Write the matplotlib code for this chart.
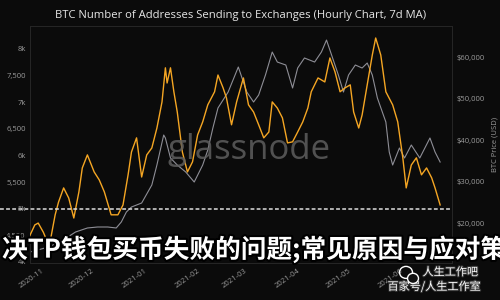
import matplotlib
matplotlib.use('Agg')
import matplotlib.pyplot as plt
import matplotlib.dates as mdates
import matplotlib.patheffects as pe
from matplotlib.patches import Ellipse
from matplotlib.ticker import FuncFormatter, FixedLocator
import pandas as pd

# ---------------- data ----------------
addr_dates = ['2020-10-23', '2020-10-26', '2020-10-28', '2020-10-31', '2020-11-02', '2020-11-04',
              '2020-11-07', '2020-11-09', '2020-11-12', '2020-11-15', '2020-11-18', '2020-11-21',
              '2020-11-23', '2020-11-26', '2020-11-30', '2020-12-03', '2020-12-06', '2020-12-10',
              '2020-12-14', '2020-12-17', '2020-12-20', '2020-12-22', '2020-12-25', '2020-12-28',
              '2020-12-31', '2021-01-03', '2021-01-06', '2021-01-09', '2021-01-11', '2021-01-12',
              '2021-01-14', '2021-01-16', '2021-01-18', '2021-01-21', '2021-01-24', '2021-01-27',
              '2021-01-30', '2021-02-02', '2021-02-05', '2021-02-09', '2021-02-11', '2021-02-14',
              '2021-02-16', '2021-02-19', '2021-02-22', '2021-02-26', '2021-03-01', '2021-03-04',
              '2021-03-07', '2021-03-10', '2021-03-13', '2021-03-15', '2021-03-18', '2021-03-21',
              '2021-03-24', '2021-03-27', '2021-03-30', '2021-04-02', '2021-04-05', '2021-04-07',
              '2021-04-11', '2021-04-15', '2021-04-18', '2021-04-21', '2021-04-24', '2021-04-27',
              '2021-04-30', '2021-05-02', '2021-05-05', '2021-05-07', '2021-05-10', '2021-05-13',
              '2021-05-15', '2021-05-18', '2021-05-21', '2021-05-25', '2021-05-28', '2021-05-31',
              '2021-06-02', '2021-06-05', '2021-06-08', '2021-06-11', '2021-06-14', '2021-06-17',
              '2021-06-19', '2021-06-22']
addr_values = [4490, 4695, 4730, 4560, 4410, 4375,
               4885, 5125, 5390, 5200, 4825, 5315,
               5765, 6010, 5690, 5540, 5315, 4885,
               4885, 5070, 5635, 6065, 6330, 5595,
               6010, 6140, 6515, 7005, 7645, 7360,
               7645, 7195, 6815, 6065, 5690, 5880,
               6385, 6630, 6950, 7195, 7510, 7270,
               7080, 6575, 7005, 7455, 6950, 6815,
               6575, 6330, 6440, 7005, 6890, 6705,
               6235, 6255, 6440, 6630, 6890, 7195,
               7455, 7380, 7830, 7570, 7195, 7270,
               7325, 6815, 6515, 6760, 7325, 7885,
               8205, 7885, 7195, 6950, 6630, 5955,
               5390, 5820, 5955, 5635, 5765, 5580,
               5390, 5070]

price_dates = ['2020-10-23', '2020-11-01', '2020-11-09', '2020-11-19', '2020-11-26', '2020-12-02',
               '2020-12-08', '2020-12-13', '2020-12-16', '2020-12-19', '2020-12-22', '2020-12-28',
               '2021-01-03', '2021-01-06', '2021-01-10', '2021-01-11', '2021-01-14', '2021-01-18',
               '2021-01-23', '2021-01-28', '2021-02-02', '2021-02-05', '2021-02-08', '2021-02-11',
               '2021-02-17', '2021-02-23', '2021-02-28', '2021-03-04', '2021-03-07', '2021-03-11',
               '2021-03-15', '2021-03-18', '2021-03-23', '2021-03-27', '2021-03-30', '2021-04-03',
               '2021-04-09', '2021-04-13', '2021-04-16', '2021-04-19', '2021-04-23', '2021-04-26',
               '2021-04-29', '2021-05-03', '2021-05-07', '2021-05-10', '2021-05-13', '2021-05-16',
               '2021-05-21', '2021-05-23', '2021-05-25', '2021-05-29', '2021-06-01', '2021-06-05',
               '2021-06-10', '2021-06-13', '2021-06-16', '2021-06-19', '2021-06-22']
price_values = [13000, 13980, 15180, 17830, 18800, 19040,
                19040, 18800, 20240, 22650, 23860, 24820,
                29160, 33980, 41210, 40480, 35670, 33980,
                32290, 29880, 33980, 37590, 42900, 47720,
                51570, 57600, 51570, 49160, 50850, 55670,
                61210, 58800, 58080, 52540, 57360, 59770,
                58800, 61210, 64100, 60490, 55670, 51570,
                55670, 58080, 57360, 58560, 55670, 50130,
                44340, 37110, 33980, 38080, 35670, 38800,
                35670, 38080, 40490, 37110, 34700]

left_ticks = [4000, 4500, 5000, 5500, 6000, 6500, 7000, 7500, 8000]
right_ticks = [20000, 30000, 40000, 50000, 60000]
month_ticks = ['2020-11-01', '2020-12-01', '2021-01-01', '2021-02-01', '2021-03-01',
               '2021-04-01', '2021-05-01', '2021-06-01']
threshold = 5000

title = 'BTC Number of Addresses Sending to Exchanges (Hourly Chart, 7d MA)'
right_label = 'BTC Price (USD)'
overlay = '决TP钱包买币失败的问题;常见原因与应对策'
wm1 = '人生工作吧'
wm2 = '百家号/人生工作室'

# ---------------- style ----------------
BG = '#0b0b0b'
ORANGE = '#f5a623'
GREY = '#8e8e96'
TICK = '#9a9a9a'

fig = plt.figure(figsize=(5, 3), dpi=100, facecolor=BG)
ax = fig.add_axes([0.06, 0.1233, 0.844, 0.79], facecolor=BG)
ax2 = ax.twinx()

ad = pd.to_datetime(addr_dates)
pdts = pd.to_datetime(price_dates)

ax2.plot(pdts, price_values, color=GREY, lw=0.8, zorder=2)
ax.plot(ad, addr_values, color=ORANGE, lw=1.0, zorder=3)
ax.set_zorder(ax2.get_zorder() + 1)
ax.patch.set_visible(False)
ax2.patch.set_facecolor(BG)

ax.set_xlim(pd.Timestamp('2020-10-23 04:00'), pd.Timestamp('2021-06-29'))
ax.set_ylim(3980, 8430)
ax2.set_ylim(10360, 67480)

ax.yaxis.set_major_locator(FixedLocator(left_ticks))
ax.yaxis.set_major_formatter(FuncFormatter(
    lambda v, p: f'{int(v)//1000}k' if int(v) % 1000 == 0 else f'{int(v):,}'))
ax2.yaxis.set_major_locator(FixedLocator(right_ticks))
ax2.yaxis.set_major_formatter(FuncFormatter(lambda v, p: f'${int(v):,}'))
ax.xaxis.set_major_locator(FixedLocator(mdates.date2num(pd.to_datetime(month_ticks))))
ax.xaxis.set_major_formatter(mdates.DateFormatter('%Y-%m'))

for a in (ax, ax2):
    a.tick_params(length=0, labelsize=5.5, colors=TICK, pad=3)
    for s in a.spines.values():
        s.set_color('#262626')
        s.set_linewidth(0.6)
    for lab in a.get_yticklabels() + a.get_xticklabels():
        lab.set_family('Open Sans')
for lab in ax.get_xticklabels():
    lab.set_rotation(35)
    lab.set_ha('right')

ax2.set_ylabel(right_label, color=TICK, fontsize=5.5, family='Open Sans', labelpad=5)

# dashed threshold line
ax.axhline(threshold, xmin=-0.072, xmax=1, clip_on=False, color='#dcdcdc',
           lw=1.1, ls=(0, (2.5, 1.5)), zorder=5)

# glassnode watermark
fig.text(0.498, 0.5, 'glassnode', color='#5e5e5e', alpha=0.85, fontsize=25,
         family='Open Sans', ha='center', va='center', zorder=1)

# title
fig.text(0.482, 0.947, title, color='#e6e6e6', fontsize=8.1, family='Open Sans',
         ha='center', va='center')

# overlay Chinese text
fig.text(0.004, 0.168, overlay, color='white', fontsize=18.5, fontweight='heavy',
         family=['Noto Sans CJK SC', 'DejaVu Sans'], ha='left', va='center', zorder=20,
         path_effects=[pe.withStroke(linewidth=3, foreground='black')])

# bottom-right watermark
fig.text(0.845, 0.093, wm1, color='white', fontsize=8, family=['Noto Sans CJK SC', 'DejaVu Sans'],
         ha='left', va='center', zorder=20,
         path_effects=[pe.withStroke(linewidth=1.5, foreground='#333333')])
fig.text(0.775, 0.045, wm2, color='white', fontsize=8, family=['Noto Sans CJK SC', 'DejaVu Sans'],
         ha='left', va='center', zorder=20,
         path_effects=[pe.withStroke(linewidth=1.5, foreground='#333333')])
fig.patches.append(Ellipse((0.812, 0.092), 0.026, 0.04, transform=fig.transFigure,
                           facecolor='none', edgecolor='white', lw=1.0, zorder=20))
fig.patches.append(Ellipse((0.826, 0.072), 0.022, 0.034, transform=fig.transFigure,
                           facecolor='#111111', edgecolor='white', lw=1.0, zorder=21))

fig.savefig('out.png', dpi=100, facecolor=BG)
